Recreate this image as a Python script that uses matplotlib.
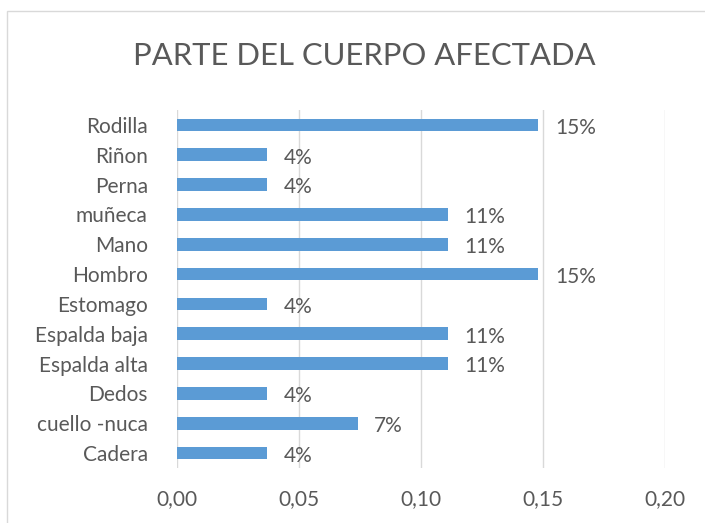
import matplotlib.pyplot as plt

categories = ["Cadera", "cuello -nuca", "Dedos", "Espalda alta", "Espalda baja",
              "Estomago", "Hombro", "Mano", "muñeca", "Perna", "Riñon", "Rodilla"]
values = [0.037, 0.074, 0.037, 0.111, 0.111, 0.037, 0.148, 0.111, 0.111, 0.037, 0.037, 0.148]
value_labels = ["4%", "7%", "4%", "11%", "11%", "4%", "15%", "11%", "11%", "4%", "4%", "15%"]
xticks = [0.0, 0.05, 0.10, 0.15, 0.20]
xtick_labels = ["0,00", "0,05", "0,10", "0,15", "0,20"]

plt.rcParams["font.family"] = ["Lato", "DejaVu Sans"]
text_color = "#595959"

fig = plt.figure(figsize=(7.05, 5.23), dpi=100)
fig.patches.append(plt.Rectangle((7 / 705, -0.1), 1.2, 1 - 11 / 523 + 0.1,
                                 transform=fig.transFigure, fill=False,
                                 edgecolor="#D9D9D9", linewidth=1))
ax = fig.add_axes([177 / 705, 1 - 468 / 523, (665 - 177) / 705, (468 - 110) / 523])

pos = range(len(categories))
ax.barh(pos, values, height=0.42, color="#5B9BD5", zorder=3)
for p, v, lab in zip(pos, values, value_labels):
    ax.annotate(lab, (v, p), xytext=(12, -2), textcoords="offset points",
                ha="left", va="center", fontsize=15, color=text_color)

ax.set_xlim(0, 0.20)
ax.set_ylim(-0.5, len(categories) - 0.5)
ax.set_xticks(xticks)
ax.set_xticklabels(xtick_labels)
ax.set_yticks(list(pos))
ax.set_yticklabels(categories)
ax.tick_params(axis="both", length=0, labelsize=15, colors=text_color)
ax.tick_params(axis="y", pad=21)
ax.tick_params(axis="x", pad=15)
ax.grid(axis="x", color="#D9D9D9", linewidth=1, zorder=0)
for s in ax.spines.values():
    s.set_visible(False)

fig.text(364 / 705, 1 - 56 / 523, "PARTE DEL CUERPO AFECTADA", ha="center", va="center",
         fontsize=22.3, color=text_color)

fig.savefig("out.png", dpi=100)
